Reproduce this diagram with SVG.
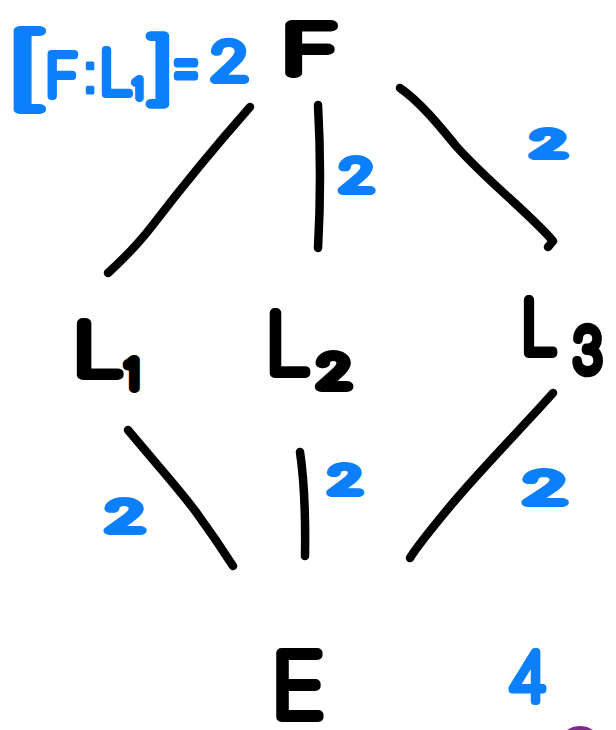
<svg xmlns="http://www.w3.org/2000/svg" width="616" height="730" viewBox="0 0 616 730">
  <style>
    .ink { font-family: "Inter", "Liberation Sans", sans-serif; font-weight: 100; fill: #000; stroke: #000; stroke-width: 10; stroke-linejoin: round; stroke-linecap: round; text-anchor: middle; }
    .blue { font-family: "Inter", "Liberation Sans", sans-serif; font-weight: 100; fill: #0b7ffc; stroke: #0b7ffc; stroke-width: 8; stroke-linejoin: round; stroke-linecap: round; }
    .mid { text-anchor: middle; }
    .dots { font-family: "Liberation Sans", Arial, sans-serif; font-weight: 400; stroke-width: 3; }
    .edge { fill: none; stroke: #000; stroke-width: 8.5; stroke-linecap: round; stroke-linejoin: round; }
  </style>
  <rect width="616" height="730" fill="#fff"/>

  <!-- index note -->
  <g id="index-note">
    <text class="blue" x="1" y="98" font-size="88" textLength="50" lengthAdjust="spacingAndGlyphs">[</text>
    <text class="blue" x="45" y="96" font-size="58">F</text>
    <text class="blue dots mid" x="90" y="93" font-size="58">:</text>
    <text class="blue" x="99" y="94" font-size="60">L</text>
    <text class="blue" x="133" y="98" font-size="26">1</text>
    <text class="blue" x="143" y="94" font-size="76" textLength="34" lengthAdjust="spacingAndGlyphs">]</text>
    <text class="blue" x="169" y="88" font-size="66" textLength="34" lengthAdjust="spacingAndGlyphs">=</text>
    <text class="blue" x="209" y="80" font-size="52" textLength="41" lengthAdjust="spacingAndGlyphs">2</text>
  </g>

  <!-- fields -->
  <g id="node-F">
    <text class="ink" x="310" y="73" font-size="66" textLength="57" lengthAdjust="spacingAndGlyphs">F</text>
  </g>
  <g id="node-L1">
    <text class="ink" x="98" y="375" font-size="71.5" textLength="50" lengthAdjust="spacingAndGlyphs">L</text>
    <text class="ink" x="132" y="388" font-size="38.5">1</text>
  </g>
  <g id="node-L2">
    <text class="ink" x="288" y="373" font-size="82.5" textLength="45" lengthAdjust="spacingAndGlyphs">L</text>
    <text class="ink" x="334" y="387" font-size="44" textLength="36" lengthAdjust="spacingAndGlyphs">2</text>
  </g>
  <g id="node-L3">
    <text class="ink" x="539" y="353" font-size="73" textLength="36" lengthAdjust="spacingAndGlyphs">L</text>
    <text class="ink" x="587.5" y="372" font-size="60.5" textLength="30" lengthAdjust="spacingAndGlyphs">3</text>
  </g>
  <g id="node-E">
    <text class="ink" x="298" y="717" font-size="88" textLength="54" lengthAdjust="spacingAndGlyphs">E</text>
  </g>

  <!-- extension lines -->
  <g id="connectors">
    <path class="edge" d="M250,107 C205,158 175,196 152,226 C136,247 120,262 108,273"/>
    <path class="edge" d="M318,105 Q322,176 318,248"/>
    <path class="edge" d="M400,88 C420,102 438,124 456,146 C488,182 528,212 553,241 L548,247"/>
    <path class="edge" d="M128,430 C158,466 180,490 196,512 C212,534 224,552 233,566"/>
    <path class="edge" d="M300,452 Q306,492 305,556"/>
    <path class="edge" d="M553,393 C520,430 482,468 452,504 C432,528 416,548 410,558"/>
  </g>

  <!-- degrees -->
  <g id="edge-labels">
    <text class="blue mid" x="356.5" y="191" font-size="44" textLength="38" lengthAdjust="spacingAndGlyphs">2</text>
    <text class="blue mid" x="548.5" y="156" font-size="34.4" textLength="38" lengthAdjust="spacingAndGlyphs">2</text>
    <text class="blue mid" x="125" y="531" font-size="40" textLength="42" lengthAdjust="spacingAndGlyphs">2</text>
    <text class="blue mid" x="345" y="493" font-size="37" textLength="36" lengthAdjust="spacingAndGlyphs">2</text>
    <text class="blue mid" x="545" y="503" font-size="42.6" textLength="47" lengthAdjust="spacingAndGlyphs">2</text>
    <text class="blue mid" x="527.5" y="701" font-size="67">4</text>
  </g>

  <ellipse cx="580" cy="736" rx="16" ry="10" fill="#7c2b8b"/>
</svg>
